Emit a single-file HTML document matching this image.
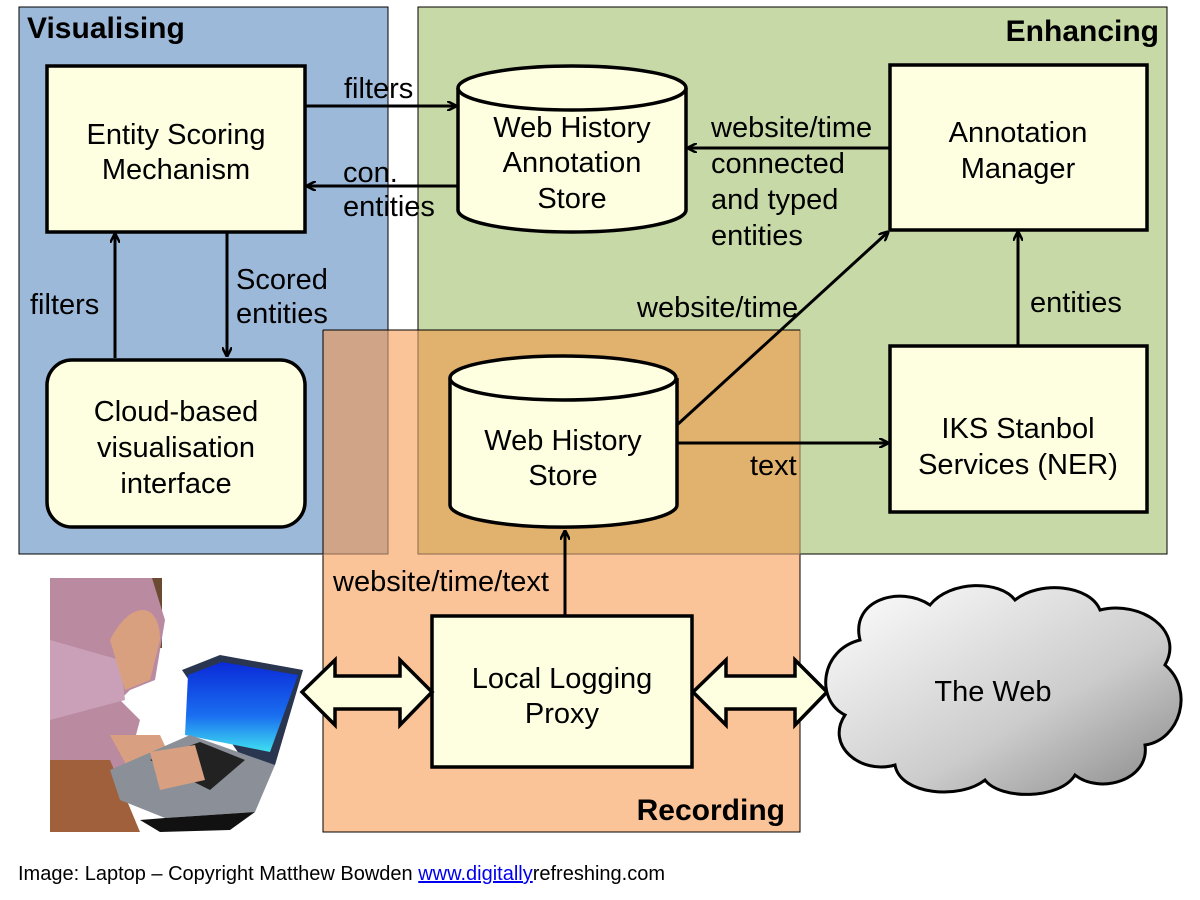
<!DOCTYPE html>
<html><head><style>body{margin:0;background:#fff}svg{display:block}</style></head><body>
<svg width="1200" height="900" viewBox="0 0 1200 900" xmlns="http://www.w3.org/2000/svg" font-family="Liberation Sans, sans-serif">
<defs>
<marker id="ah" markerWidth="10" markerHeight="10" refX="9" refY="5" orient="auto" markerUnits="userSpaceOnUse"><path d="M0,0 L10,5 L0,10" fill="none" stroke="#000" stroke-width="2.5"/></marker>
<linearGradient id="cg" x1="0" y1="0" x2="1" y2="1"><stop offset="0" stop-color="#fff"/><stop offset="0.6" stop-color="#ccc"/><stop offset="1" stop-color="#888"/></linearGradient>
<linearGradient id="scr" x1="0" y1="0" x2="0" y2="1"><stop offset="0" stop-color="#0a2ad8"/><stop offset="0.6" stop-color="#1a6ff0"/><stop offset="1" stop-color="#3fe0f0"/></linearGradient>
</defs>
<rect x="19" y="7" width="369" height="547" fill="#9db9d9" stroke="#000" stroke-width="1"/>
<rect x="418" y="7" width="749" height="547" fill="#c7d9a7" stroke="#000" stroke-width="1"/>
<rect x="323" y="330" width="477" height="502" fill="#fbc398" stroke="#000" stroke-width="1"/>
<rect x="323" y="330" width="65" height="224" fill="#cfa487" stroke="#8a6a50" stroke-width="1"/>
<rect x="418" y="330" width="382" height="224" fill="#e1b26d" stroke="#8a6a50" stroke-width="1"/>
<line x1="323" y1="330" x2="800" y2="330" stroke="#000"/>
<line x1="323" y1="330" x2="323" y2="554" stroke="#000"/>
<text x="27" y="38" font-size="30" font-weight="bold">Visualising</text>
<text x="1159" y="41" font-size="30" font-weight="bold" text-anchor="end">Enhancing</text>
<text x="785" y="820" font-size="30" font-weight="bold" text-anchor="end">Recording</text>
<g stroke="#000" stroke-width="3.5" fill="#fefee0">
<rect x="47" y="66" width="258" height="166"/>
<rect x="47" y="360" width="258" height="167" rx="25"/>
<rect x="890" y="65" width="257" height="165"/>
<rect x="890" y="346" width="257" height="166"/>
<rect x="432" y="616" width="260" height="151"/>
<path d="M458,88 L458,210 A114,22 0 0 0 686,210 L686,88"/>
<ellipse cx="572" cy="88" rx="114" ry="22"/>
<path d="M450,378 L450,505 A113,22 0 0 0 677,505 L677,378"/>
<ellipse cx="563" cy="378" rx="113" ry="22"/>
</g>
<g font-size="29" text-anchor="middle">
<text x="176" y="144">Entity Scoring</text><text x="176" y="179">Mechanism</text>
<text x="176" y="421">Cloud-based</text><text x="176" y="457">visualisation</text><text x="176" y="493">interface</text>
<text x="572" y="137">Web History</text><text x="572" y="172">Annotation</text><text x="572" y="208">Store</text>
<text x="1018" y="142">Annotation</text><text x="1018" y="178">Manager</text>
<text x="1018" y="438">IKS Stanbol</text><text x="1018" y="474">Services (NER)</text>
<text x="563" y="450">Web History</text><text x="563" y="485">Store</text>
<text x="562" y="688">Local Logging</text><text x="562" y="723">Proxy</text>
</g>
<g stroke="#000" stroke-width="3" fill="none" marker-end="url(#ah)">
<line x1="305" y1="106" x2="456" y2="106"/>
<line x1="458" y1="186" x2="307" y2="186"/>
<line x1="890" y1="148" x2="688" y2="148"/>
<line x1="227" y1="232" x2="227" y2="356"/>
<line x1="115" y1="358" x2="115" y2="234"/>
<line x1="677" y1="425" x2="888" y2="232"/>
<line x1="677" y1="443" x2="888" y2="443"/>
<line x1="1018" y1="346" x2="1018" y2="232"/>
<line x1="565" y1="616" x2="565" y2="531"/>
</g>
<g font-size="29">
<text x="344" y="98">filters</text>
<text x="343" y="182">con.</text><text x="343" y="216">entities</text>
<text x="711" y="137">website/time</text>
<text x="711" y="173">connected</text><text x="711" y="209">and typed</text><text x="711" y="245">entities</text>
<text x="236" y="289">Scored</text><text x="236" y="323">entities</text>
<text x="30" y="314">filters</text>
<text x="637" y="317">website/time</text>
<text x="750" y="475">text</text>
<text x="1030" y="312">entities</text>
<text x="333" y="591">website/time/text</text>
</g>
<g stroke="#000" stroke-width="3.5" fill="#fefee0">
<path d="M302,692 L335,660 L335,676 L400,676 L400,660 L432,692 L400,725 L400,709 L335,709 L335,725 Z"/>
<path d="M693,692 L726,660 L726,676 L795,676 L795,660 L827,692 L795,725 L795,709 L726,709 L726,725 Z"/>
</g>
<path d="M860,640 C850,600 900,585 930,605 C950,580 1000,580 1015,600 C1040,580 1090,585 1100,610 C1140,600 1185,630 1165,665 C1195,690 1180,740 1145,745 C1150,780 1100,795 1075,775 C1060,800 1000,800 985,780 C960,800 900,795 895,765 C860,775 825,745 845,715 C815,700 820,650 860,640 Z" fill="url(#cg)" stroke="#000" stroke-width="3"/>
<text x="993" y="701" font-size="29" text-anchor="middle">The Web</text>
<rect x="50" y="578" width="112" height="70" fill="#6b4a32"/>
<path d="M50,578 L152,578 L165,620 L155,680 L130,690 L120,700 L140,720 L110,832 L50,832 Z" fill="#b98aa0"/>
<path d="M50,640 L120,660 L125,700 L50,720 Z" fill="#c9a0b8"/>
<path d="M110,640 C130,600 160,600 160,640 L150,680 L125,690 Z" fill="#d9a080"/>
<path d="M50,760 L110,760 L140,832 L50,832 Z" fill="#a0603c"/>
<path d="M110,735 L160,735 L185,790 L170,805 L140,790 Z" fill="#d8a080"/>
<path d="M182,670 L220,655 L303,670 L275,765 L250,770 Z" fill="#2a3550"/>
<path d="M188,675 L222,662 L298,675 L270,752 L185,735 Z" fill="url(#scr)"/>
<path d="M110,770 L190,735 L275,765 L255,812 L165,818 L120,800 Z" fill="#8a8f98"/>
<path d="M150,760 L200,742 L245,760 L210,790 Z" fill="#222"/>
<path d="M140,820 L165,818 L255,812 L230,830 L160,832 Z" fill="#111"/>
<path d="M150,752 L195,745 L205,780 L160,790 Z" fill="#d8a080"/>
<text x="18" y="880" font-size="20">Image: Laptop – Copyright Matthew Bowden <tspan fill="#0000ee" text-decoration="underline">www.digitally</tspan>refreshing.com</text>
</svg>
</body></html>
